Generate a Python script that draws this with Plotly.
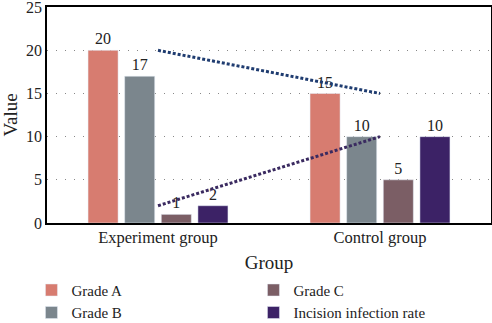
import plotly.graph_objects as go

categories = ["Experiment group", "Control group"]
grade_a = [20, 15]
grade_b = [17, 10]
grade_c = [1, 5]
incision = [2, 10]

series = [
    ("Grade A", grade_a, "#D77C70", 1),
    ("Grade B", grade_b, "#7B868D", 3),
    ("Grade C", grade_c, "#7B5E65", 2),
    ("Incision infection rate", incision, "#3C2266", 4),
]

FONT = "Liberation Serif"
fig = go.Figure()
for name, vals, color, rank in series:
    fig.add_trace(go.Bar(
        x=categories, y=vals, name=name, marker_color=color,
        text=[str(v) for v in vals], textposition="outside",
        textfont=dict(family=FONT, size=16, color="#222"),
        cliponaxis=False, legendrank=rank,
    ))

fig.add_trace(go.Scatter(x=categories, y=grade_a, mode="lines",
                         line=dict(color="#1F3C70", width=3, dash="3px,2px"),
                         showlegend=False, hoverinfo="skip"))
fig.add_trace(go.Scatter(x=categories, y=incision, mode="lines",
                         line=dict(color="#3A2A60", width=3, dash="3px,2px"),
                         showlegend=False, hoverinfo="skip"))

fig.update_layout(
    width=492, height=323,
    margin=dict(l=47, r=1, t=7, b=100, autoexpand=False),
    paper_bgcolor="white", plot_bgcolor="white",
    barmode="group", bargap=0.34, bargroupgap=0.18,
    font=dict(family=FONT, size=16, color="#222"),
    showlegend=True,
    legend=dict(orientation="h", x=-0.035, xanchor="left", y=-0.235, yanchor="top",
                entrywidth=177, entrywidthmode="pixels", tracegroupgap=0,
                font=dict(family=FONT, size=15), itemwidth=30),
    xaxis=dict(showline=True, linecolor="black", linewidth=1.5, mirror=True,
               ticks="", title=dict(text="Group", standoff=10),
               tickfont=dict(size=16.5), ticklabelstandoff=-2),
    yaxis=dict(range=[0, 25.02], tickvals=[0, 5, 10, 15, 20, 25], showline=True,
               linecolor="black", linewidth=1.5, ticklabeloverflow="allow",
               mirror=True, ticks="", showgrid=True, gridcolor="#888",
               griddash="1px,8px", gridwidth=1, zeroline=False,
               title=dict(text="Value", standoff=8), tickfont=dict(size=16)),
)

fig.write_html("out.html", config={"displayModeBar": False},
               post_script="document.body.style.margin='0';")
